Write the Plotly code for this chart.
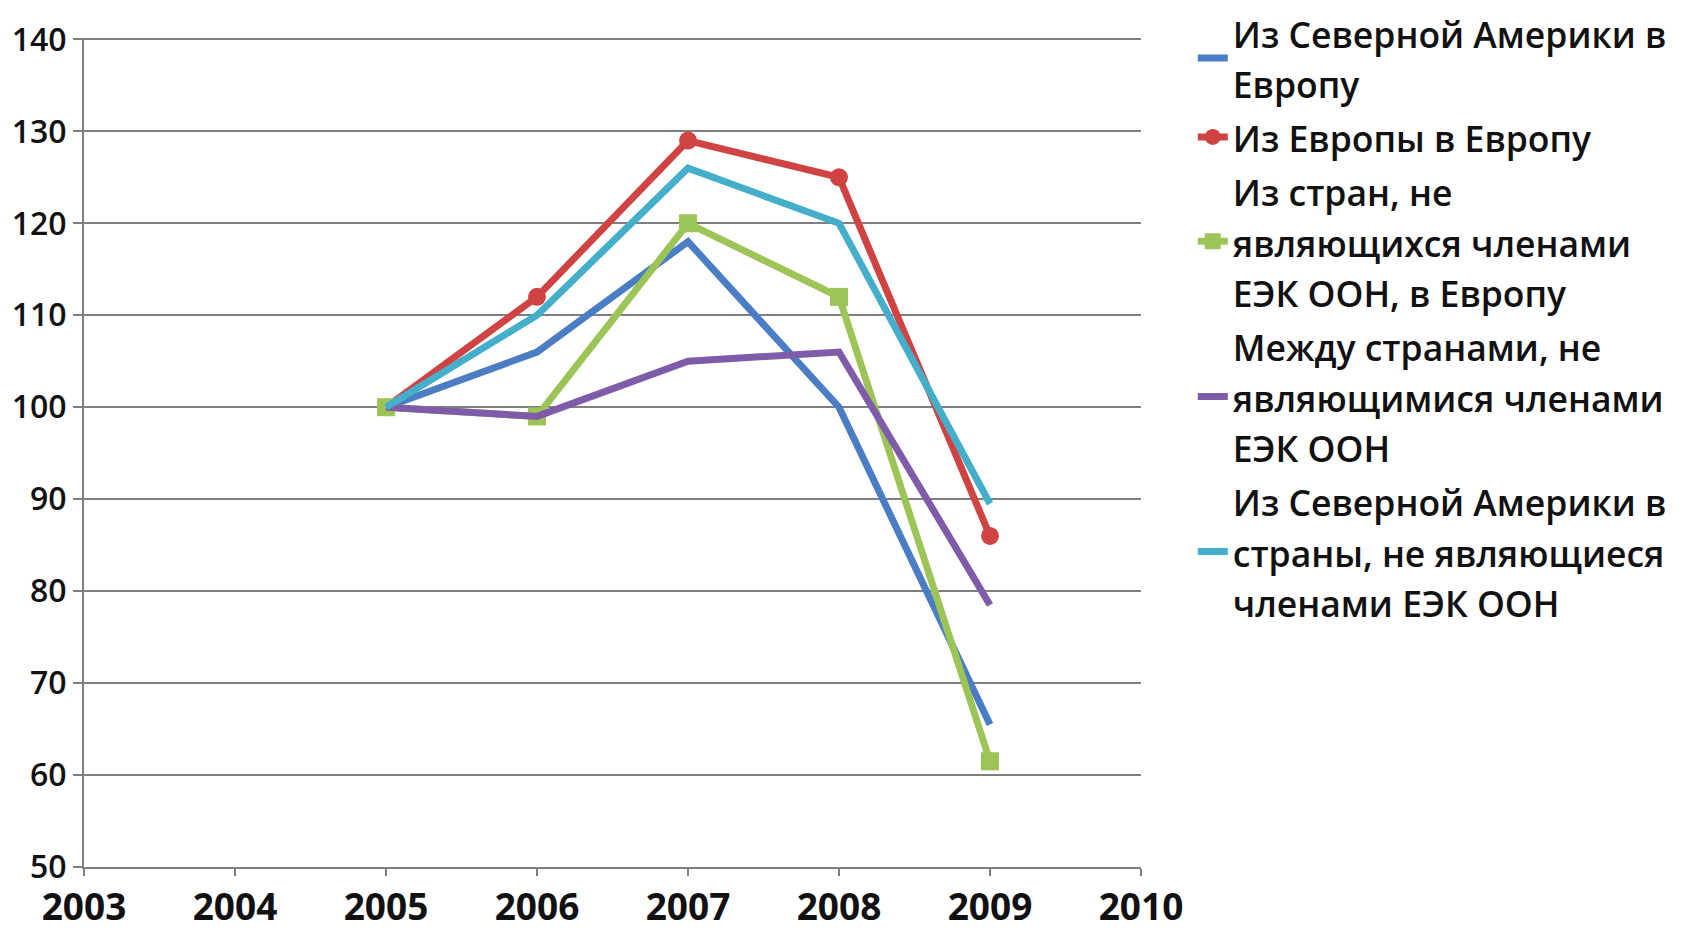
import plotly.graph_objects as go

years = [2005, 2006, 2007, 2008, 2009]
series_names = [
    "Из Северной Америки в<br>Европу",
    "Из Европы в Европу",
    "Из стран, не<br>являющихся членами<br>ЕЭК ООН, в Европу",
    "Между странами, не<br>являющимися членами<br>ЕЭК ООН",
    "Из Северной Америки в<br>страны, не являющиеся<br>членами ЕЭК ООН",
]
na_to_eu = [100, 106, 118, 100, 65.5]
eu_to_eu = [100, 112, 129, 125, 86]
non_to_eu = [100, 99, 120, 112, 61.5]
non_to_non = [100, 99, 105, 106, 78.5]
na_to_non = [100, 110, 126, 120, 89.5]

x_ticks = [2003, 2004, 2005, 2006, 2007, 2008, 2009, 2010]
y_ticks = [50, 60, 70, 80, 90, 100, 110, 120, 130, 140]

colors = ["#4A7DC4", "#CF4442", "#9DC456", "#7E5CA9", "#45AFCB"]
values = [na_to_eu, eu_to_eu, non_to_eu, non_to_non, na_to_non]
modes = ["lines", "lines+markers", "lines+markers", "lines", "lines"]
symbols = [None, "circle", "square", None, None]


def legend_label(name):
    # glyphs at 35.5px while line spacing follows the 39px base font
    return "<br>".join(
        '<span style="font-size:35.5px">' + part + "</span>" for part in name.split("<br>")
    )


fig = go.Figure()
for name, vals, col, mode, sym in zip(series_names, values, colors, modes, symbols):
    kw = {}
    if sym:
        kw["marker"] = dict(symbol=sym, size=18, color=col)
    fig.add_trace(go.Scatter(
        x=years, y=vals, name=legend_label(name), mode=mode,
        line=dict(color=col, width=7),
        **kw,
    ))

grid_col = "#7f7f7f"
fig.update_layout(
    width=1677, height=922,
    margin=dict(l=76, r=544, t=30, b=63, autoexpand=False),
    paper_bgcolor="white", plot_bgcolor="white",
    showlegend=True,
    legend=dict(
        x=1.049, xanchor="left", y=1.045, yanchor="top",
        font=dict(family="Open Sans", size=39, color="#111111", weight=600),
        bgcolor="rgba(0,0,0,0)", itemwidth=30, tracegroupgap=0,
        valign="middle", maxheight=1.0,
    ),
    xaxis=dict(
        range=[2003, 2010], tickvals=x_ticks, ticktext=[str(v) for v in x_ticks],
        showgrid=False, showline=True, linecolor=grid_col, linewidth=2,
        ticks="outside", ticklen=7, tickwidth=2, tickcolor=grid_col,
        tickfont=dict(family="Open Sans", size=37, color="#111111", weight=700),
        zeroline=False, automargin=False,
    ),
    yaxis=dict(
        range=[50, 140.15], tickvals=y_ticks,
        showgrid=True, gridcolor=grid_col, gridwidth=2,
        showline=True, linecolor=grid_col, linewidth=2,
        ticks="outside", ticklen=9, tickwidth=2, tickcolor=grid_col,
        tickfont=dict(family="Open Sans", size=32, color="#111111", weight=600),
        zeroline=False, automargin=False,
    ),
)

fig.write_html("out.html")
